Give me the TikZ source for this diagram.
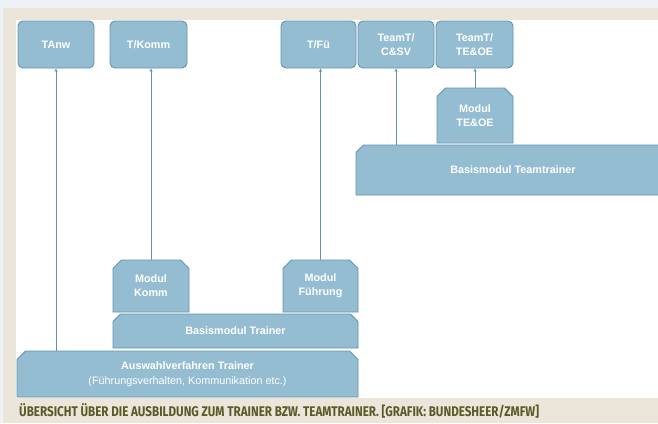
\documentclass[tikz,border=0pt]{standalone}
\usepackage{fontspec}
\setmainfont{Liberation Sans}
\newfontfamily\capfont{Fira Sans}
\usetikzlibrary{shapes.misc,arrows.meta}
\definecolor{boxfill}{RGB}{148,189,210}
\definecolor{boxline}{RGB}{98,148,176}
\definecolor{beige}{RGB}{236,230,218}
\definecolor{topstrip}{RGB}{238,242,247}
\definecolor{captxt}{RGB}{88,90,40}
\tikzset{
  topbox/.style={draw=boxline, fill=boxfill, line width=0.9pt, rounded corners=5pt,
    inner sep=0pt, text=white, font=\bfseries\fontsize{10.8}{13.5}\selectfont, align=center},
  modbox/.style={draw=boxline, fill=boxfill, line width=0.9pt, chamfered rectangle,
    chamfered rectangle corners={north west,north east}, chamfered rectangle xsep=5pt,
    inner sep=0pt, text=white, font=\bfseries\fontsize{10.8}{14}\selectfont, align=center},
  arr/.style={draw=boxline, line width=0.8pt, -{Stealth[length=3.5pt,width=3pt]}}
}
\begin{document}
\begin{tikzpicture}[x=1pt,y=-1pt]
\useasboundingbox (0,0) rectangle (658,423);
\fill[topstrip] (0,0) rectangle (658,423);
\fill[beige] (3,8) rectangle (658,423);
\fill[white] (16,20) rectangle (658,398);
% top row
\node[topbox, minimum width=76pt, minimum height=47pt] (tanw) at (56,44.5) {TAnw};
\node[topbox, minimum width=77pt, minimum height=47pt] (tkomm) at (148.5,44.5) {T/Komm};
\node[topbox, minimum width=75pt, minimum height=47pt] (tfue) at (318.5,44.5) {T/Fü};
\node[topbox, minimum width=76pt, minimum height=47pt] (tcsv) at (396,44.5) {TeamT/\\C\&SV};
\node[topbox, minimum width=77pt, minimum height=47pt] (tteoe) at (474.5,44.5) {TeamT/\\TE\&OE};
% team trainer part
\node[modbox, minimum width=76pt, minimum height=55pt] (mteoe) at (475,115.5) {Modul\\TE\&OE};
\node[modbox, chamfered rectangle corners={north west}, minimum width=314pt, minimum height=50pt] (bteam) at (513,170) {Basismodul Teamtrainer};
% trainer part
\node[modbox, minimum width=76pt, minimum height=52pt] (mkomm) at (151,286) {Modul\\Komm};
\node[modbox, minimum width=75pt, minimum height=52pt] (mfue) at (320.5,286) {Modul\\Führung};
\node[modbox, minimum width=245pt, minimum height=34pt] (btrain) at (235.5,331) {Basismodul Trainer};
\node[modbox, minimum width=341pt, minimum height=46pt, font=\fontsize{10.8}{15}\selectfont] (ausw) at (187.5,374)
  {\bfseries Auswahlverfahren Trainer\\(Führungsverhalten, Kommunikation etc.)};
% arrows
\draw[arr] (ausw.north -| tanw.south) -- (tanw.south);
\draw[arr] (mkomm.north) -- (mkomm.north |- tkomm.south);
\draw[arr] (mfue.north) -- (mfue.north |- tfue.south);
\draw[arr] (bteam.north -| tcsv.south) -- (tcsv.south);
\draw[arr] (mteoe.north) -- (mteoe.north |- tteoe.south);
% caption
\node[anchor=west, inner sep=0pt, text=captxt] (cap) at (19,410.5)
  {\scalebox{0.83}[1]{\capfont\bfseries\fontsize{14}{15}\selectfont ÜBERSICHT ÜBER DIE AUSBILDUNG ZUM TRAINER BZW. TEAMTRAINER. [GRAFIK: BUNDESHEER/ZMFW]}};
\end{tikzpicture}
\end{document}
